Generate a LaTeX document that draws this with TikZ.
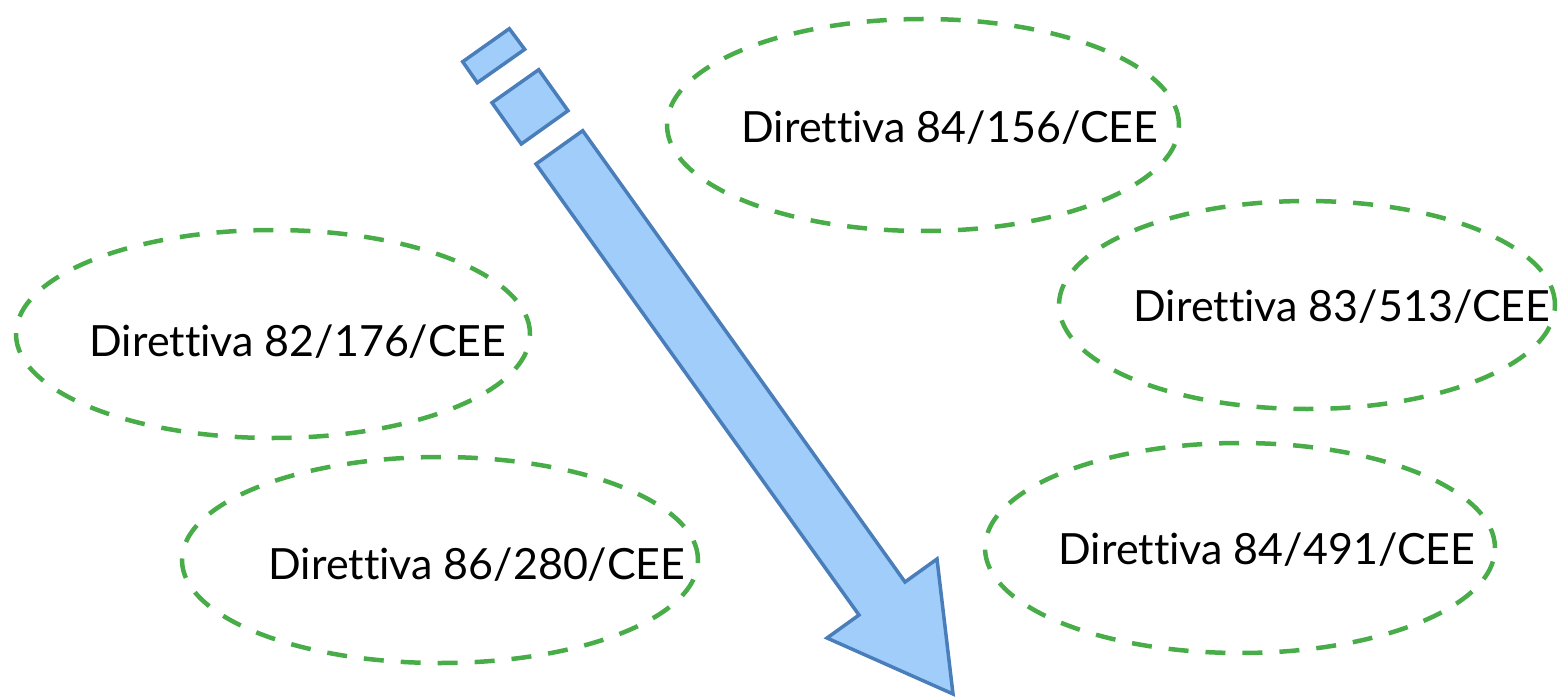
\documentclass[tikz,border=0pt]{standalone}
\usepackage{fontspec}
\setmainfont{Lato}[Ligatures=NoCommon]
\usetikzlibrary{shapes.geometric}
\definecolor{arrowfill}{RGB}{160,205,250}
\definecolor{arrowline}{RGB}{74,126,187}
\definecolor{dashgreen}{RGB}{72,172,72}
\tikzset{
  dirbubble/.style={ellipse, draw=dashgreen, line width=4.5pt,
                    dash pattern=on 20pt off 17pt, inner sep=0pt},
  dirlabel/.style={font=\fontsize{43}{50}\selectfont},
  arrowpart/.style={fill=arrowfill, draw=arrowline, line width=3.5pt}
}

\begin{document}
\begin{tikzpicture}[
  x=1pt,
  y=-1pt
]
\useasboundingbox (0,0) rectangle (1559,698);

% the big arrow and its two small blocks
\draw [arrowpart] (462.7,61.7) -- (509.3,28.7) -- (524.7,49.3) -- (477.3,82.7) -- cycle;
\draw [arrowpart] (492,102.7) -- (538.7,69.7) -- (568,110.7) -- (521.3,144) -- cycle;
\draw [arrowpart] (536,164) -- (582.7,130.7) -- (905,582) -- (937,559)
                  -- (953,694) -- (827,638) -- (859,615) -- cycle;

\foreach [count=\i] \cx/\cy/\w/\h/\tx/\ty/\t in
                  {923/125/512/212/950/128/{Direttiva 84/156/CEE},
                   273/334/514/208/298/342/{Direttiva 82/176/CEE},
                   1307/305/496/208/1342/307/{Direttiva 83/513/CEE},
                   440/560/516/206/477/565/{Direttiva 86/280/CEE},
                   1240/548/510/210/1267/550/{Direttiva 84/491/CEE}
                   }
  {
   \node [dirbubble,
          minimum width=\w,
          minimum height=\h,
          name=e-\i] at (\cx,\cy) {};
   \node [dirlabel,
          name=t-\i] at (\tx,\ty) {\t};
  }

\end{tikzpicture}
\end{document}
